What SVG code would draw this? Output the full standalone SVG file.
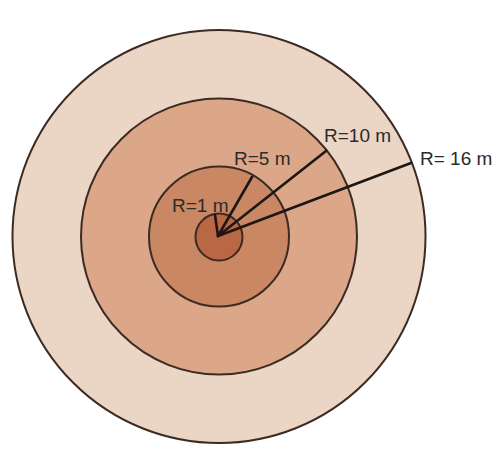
<svg xmlns="http://www.w3.org/2000/svg" width="492" height="454" viewBox="0 0 492 454">
<style>
.ring{stroke:#3b2b22;stroke-width:2}
.ray{stroke:#1c1714;stroke-width:2.6;stroke-linecap:round;fill:none}
.lbl{font-family:"Liberation Sans",Arial,sans-serif;font-size:19px;fill:#2b2b2b}
</style>
<rect width="492" height="454" fill="#ffffff"/>
<g id="zone-16m"><circle class="ring" cx="219" cy="236.5" r="206.5" fill="#ebd5c5"/></g>
<g id="zone-10m"><circle class="ring" cx="219" cy="236.5" r="138" fill="#dca688"/></g>
<g id="zone-5m"><circle class="ring" cx="219" cy="236.5" r="70" fill="#c98764"/></g>
<g id="zone-1m"><circle class="ring" cx="219" cy="237" r="23.5" fill="#b96744"/></g>
<g id="connectors">
<line class="ray" x1="218" y1="236" x2="215" y2="215"/>
<line class="ray" x1="218" y1="236" x2="252" y2="177"/>
<line class="ray" x1="218" y1="236" x2="326" y2="151"/>
<line class="ray" x1="218" y1="236" x2="411" y2="163"/>
</g>
<g id="labels">
<text class="lbl" x="172" y="212">R=1 m</text>
<text class="lbl" x="234" y="165">R=5 m</text>
<text class="lbl" x="324" y="142">R=10 m</text>
<text class="lbl" x="420" y="165">R= 16 m</text>
</g>
</svg>
